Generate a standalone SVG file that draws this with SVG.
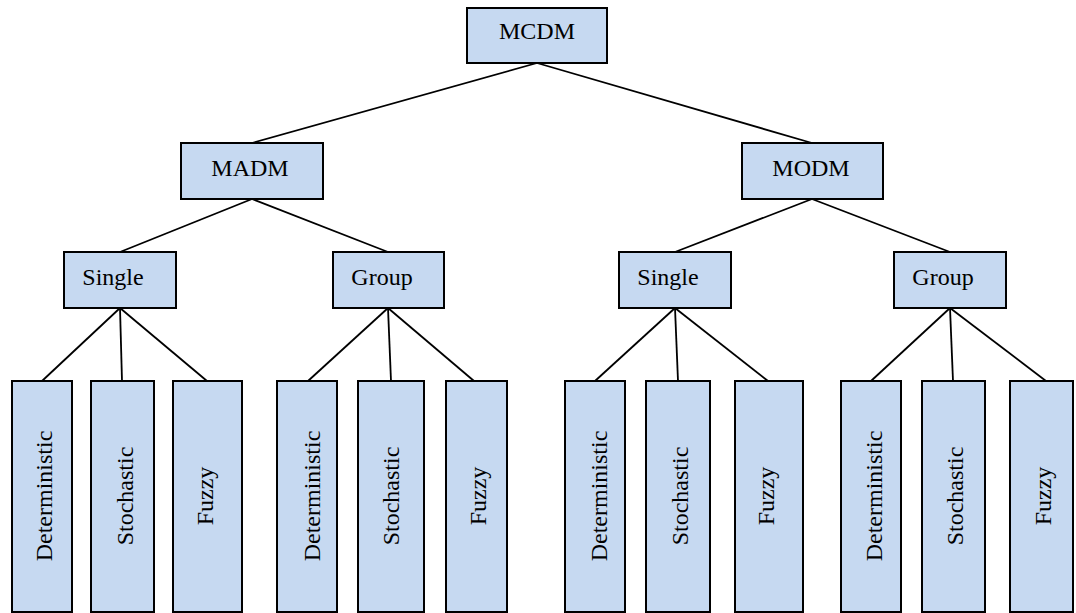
<svg xmlns="http://www.w3.org/2000/svg" width="1076" height="613" viewBox="0 0 1076 613">
<style>
.box{fill:#C6D9F1;stroke:#000;stroke-width:2}
.lbl{font-family:"Liberation Serif","Times New Roman",serif;font-size:24px;fill:#000;text-anchor:middle}
.conn line{stroke:#000;stroke-width:1.8}
</style>
<rect width="1076" height="613" fill="#fff"/>
<g id="connectors" class="conn">
<line x1="537" y1="63" x2="252" y2="143"/>
<line x1="537" y1="63" x2="812" y2="143"/>
<line x1="252" y1="199" x2="120" y2="252"/>
<line x1="252" y1="199" x2="388" y2="252"/>
<line x1="812" y1="199" x2="675" y2="252"/>
<line x1="812" y1="199" x2="950" y2="252"/>
<line x1="120" y1="308" x2="42" y2="381"/>
<line x1="120" y1="308" x2="122" y2="381"/>
<line x1="120" y1="308" x2="207" y2="381"/>
<line x1="388" y1="308" x2="308" y2="381"/>
<line x1="388" y1="308" x2="391" y2="381"/>
<line x1="388" y1="308" x2="474" y2="381"/>
<line x1="675" y1="308" x2="595" y2="381"/>
<line x1="675" y1="308" x2="678" y2="381"/>
<line x1="675" y1="308" x2="768" y2="381"/>
<line x1="950" y1="308" x2="871" y2="381"/>
<line x1="950" y1="308" x2="953" y2="381"/>
<line x1="950" y1="308" x2="1046" y2="381"/>
</g>
<g id="mcdm"><rect class="box" x="467" y="8" width="140" height="55"/><text class="lbl" x="537" y="39">MCDM</text></g>
<g id="madm"><rect class="box" x="181" y="143" width="142" height="56"/><text class="lbl" x="250" y="176">MADM</text></g>
<g id="modm"><rect class="box" x="742" y="143" width="141" height="56"/><text class="lbl" x="811" y="176">MODM</text></g>
<g id="madm-single"><rect class="box" x="64" y="252" width="112" height="56"/><text class="lbl" x="113" y="285">Single</text></g>
<g id="madm-group"><rect class="box" x="333" y="252" width="111" height="56"/><text class="lbl" x="382" y="285">Group</text></g>
<g id="modm-single"><rect class="box" x="619" y="252" width="112" height="56"/><text class="lbl" x="668" y="285">Single</text></g>
<g id="modm-group"><rect class="box" x="894" y="252" width="112" height="56"/><text class="lbl" x="943" y="285">Group</text></g>

<g id="ms-det"><rect class="box" x="12" y="381" width="60" height="231"/><text class="lbl" transform="translate(52,496) rotate(-90)">Deterministic</text></g>
<g id="ms-sto"><rect class="box" x="91" y="381" width="63" height="231"/><text class="lbl" transform="translate(132.5,496) rotate(-90)">Stochastic</text></g>
<g id="ms-fuz"><rect class="box" x="173" y="381" width="69" height="231"/><text class="lbl" transform="translate(213,496) rotate(-90)">Fuzzy</text></g>

<g id="mg-det"><rect class="box" x="277" y="381" width="60" height="231"/><text class="lbl" transform="translate(320,496) rotate(-90)">Deterministic</text></g>
<g id="mg-sto"><rect class="box" x="358" y="381" width="66" height="231"/><text class="lbl" transform="translate(399,496) rotate(-90)">Stochastic</text></g>
<g id="mg-fuz"><rect class="box" x="446" y="381" width="61" height="231"/><text class="lbl" transform="translate(486,496) rotate(-90)">Fuzzy</text></g>

<g id="os-det"><rect class="box" x="565" y="381" width="60" height="231"/><text class="lbl" transform="translate(606.5,496) rotate(-90)">Deterministic</text></g>
<g id="os-sto"><rect class="box" x="646" y="381" width="64" height="231"/><text class="lbl" transform="translate(687.5,496) rotate(-90)">Stochastic</text></g>
<g id="os-fuz"><rect class="box" x="735" y="381" width="68" height="231"/><text class="lbl" transform="translate(774,496) rotate(-90)">Fuzzy</text></g>

<g id="og-det"><rect class="box" x="841" y="381" width="60" height="231"/><text class="lbl" transform="translate(882,496) rotate(-90)">Deterministic</text></g>
<g id="og-sto"><rect class="box" x="922" y="381" width="63" height="231"/><text class="lbl" transform="translate(963,496) rotate(-90)">Stochastic</text></g>
<g id="og-fuz"><rect class="box" x="1010" y="381" width="63" height="231"/><text class="lbl" transform="translate(1051,496) rotate(-90)">Fuzzy</text></g>
</svg>
